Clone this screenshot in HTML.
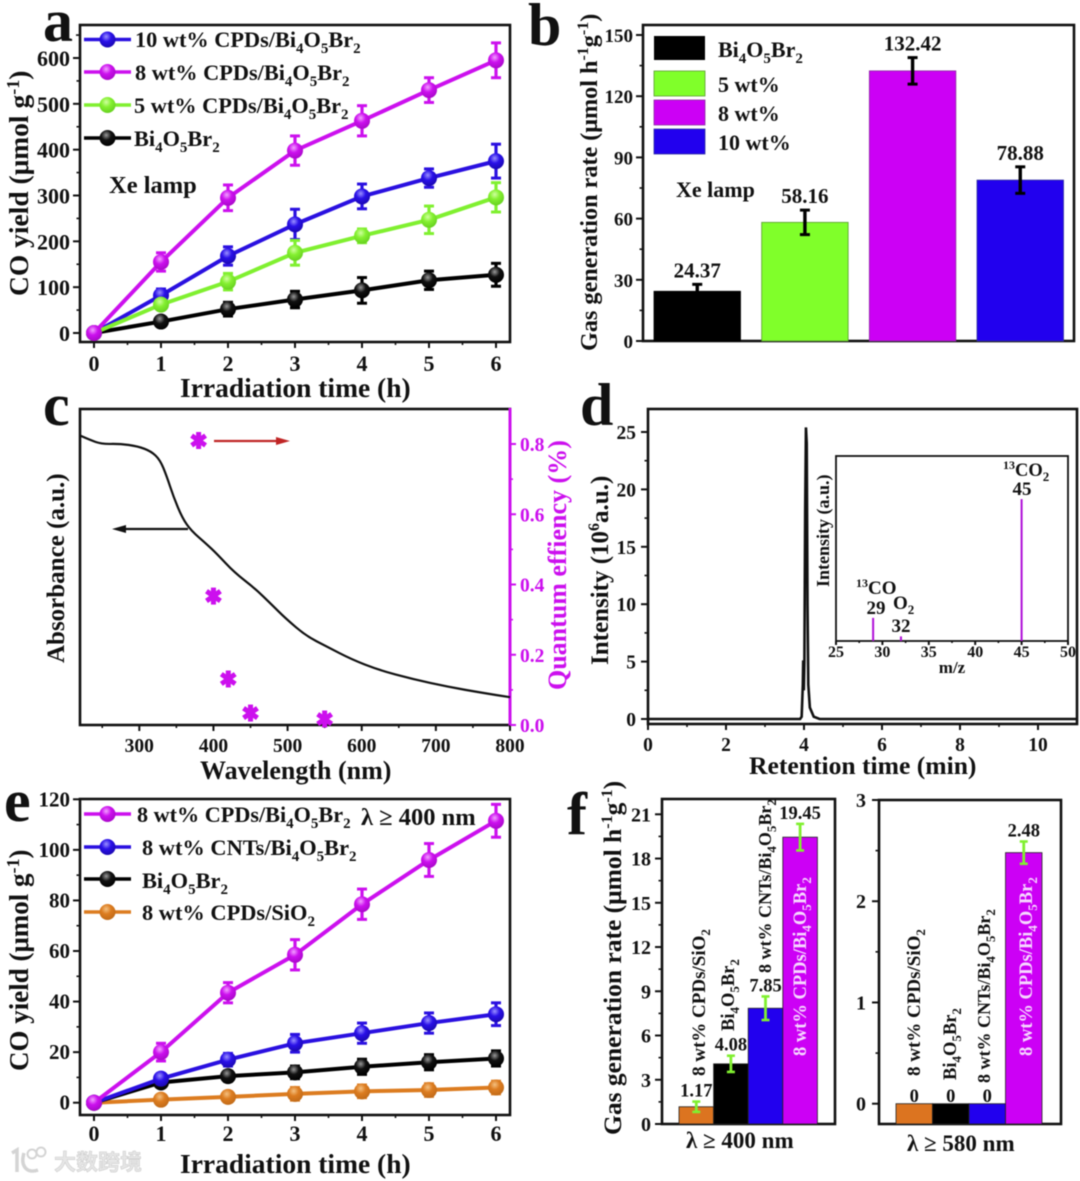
<!DOCTYPE html>
<html lang="en">
<head>
<meta charset="utf-8">
<title>CO yield and gas generation figure</title>
<style>
html,body{margin:0;padding:0;background:#fff;}
svg{display:block;filter:blur(0.6px);}
text{font-family:"Liberation Serif","Noto Sans CJK SC",serif;font-weight:bold;fill:#111;}
.frame{fill:none;stroke:#111;stroke-width:2.6;}
</style>
</head>
<body>
<svg id="figure" xmlns="http://www.w3.org/2000/svg" width="1080" height="1181" viewBox="0 0 1080 1181">
<defs>
<radialGradient id="g-blue" cx="0.42" cy="0.32" r="0.7"><stop offset="0" stop-color="#9a90ff"/><stop offset="0.45" stop-color="#2a10e8"/><stop offset="1" stop-color="#1a08b0"/></radialGradient>
<radialGradient id="g-magenta" cx="0.42" cy="0.32" r="0.7"><stop offset="0" stop-color="#f2a0ff"/><stop offset="0.45" stop-color="#cc10ee"/><stop offset="1" stop-color="#a808c8"/></radialGradient>
<radialGradient id="g-green" cx="0.42" cy="0.32" r="0.7"><stop offset="0" stop-color="#d0ffa0"/><stop offset="0.45" stop-color="#84f030"/><stop offset="1" stop-color="#66d020"/></radialGradient>
<radialGradient id="g-black" cx="0.42" cy="0.32" r="0.7"><stop offset="0" stop-color="#999"/><stop offset="0.45" stop-color="#111"/><stop offset="1" stop-color="#000"/></radialGradient>
<radialGradient id="g-orange" cx="0.42" cy="0.32" r="0.7"><stop offset="0" stop-color="#f4c080"/><stop offset="0.45" stop-color="#dc7c20"/><stop offset="1" stop-color="#c06a18"/></radialGradient>
</defs>

<g id="panel-a">
<rect class="frame" x="80" y="25" width="430" height="317"/>
<g id="a-marks"></g>
<text x="43" y="41" font-size="60">a</text>
<text x="180" y="397" font-size="27.5">Irradiation time (h)</text>
<text transform="translate(28 296) rotate(-90)" font-size="27.5">CO yield (μmol g<tspan dy="-9" font-size="18">-1</tspan><tspan dy="9">)</tspan></text>
<text x="135" y="47" font-size="22.3">10 wt% CPDs/Bi<tspan dy="6" font-size="15">4</tspan><tspan dy="-6">O</tspan><tspan dy="6" font-size="15">5</tspan><tspan dy="-6">Br</tspan><tspan dy="6" font-size="15">2</tspan></text>
<text x="135" y="80" font-size="22.3">8 wt% CPDs/Bi<tspan dy="6" font-size="15">4</tspan><tspan dy="-6">O</tspan><tspan dy="6" font-size="15">5</tspan><tspan dy="-6">Br</tspan><tspan dy="6" font-size="15">2</tspan></text>
<text x="134" y="113" font-size="22.3">5 wt% CPDs/Bi<tspan dy="6" font-size="15">4</tspan><tspan dy="-6">O</tspan><tspan dy="6" font-size="15">5</tspan><tspan dy="-6">Br</tspan><tspan dy="6" font-size="15">2</tspan></text>
<text x="134" y="146" font-size="22.3">Bi<tspan dy="6" font-size="15">4</tspan><tspan dy="-6">O</tspan><tspan dy="6" font-size="15">5</tspan><tspan dy="-6">Br</tspan><tspan dy="6" font-size="15">2</tspan></text>
<text x="109" y="193" font-size="24.5">Xe lamp</text>
</g>

<g id="panel-b">
<rect class="frame" x="643" y="25" width="431" height="316"/>
<g id="b-marks"></g>
<text x="528" y="45" font-size="60">b</text>
<text transform="translate(597 351) rotate(-90)" font-size="24.2">Gas generation rate (μmol h<tspan dy="-9" font-size="16">-1</tspan><tspan dy="9">g</tspan><tspan dy="-9" font-size="16">-1</tspan><tspan dy="9">)</tspan></text>
<rect x="654" y="36" width="51" height="24" fill="#000"/>
<rect x="654" y="71" width="51" height="25" fill="#80ff2a" stroke="#5a9a30" stroke-width="0.8"/>
<rect x="654" y="100" width="51" height="25" fill="#cc00f5" stroke="#8a30a0" stroke-width="0.8"/>
<rect x="654" y="129" width="51" height="25" fill="#2200ee" stroke="#3030a0" stroke-width="0.8"/>
<text x="718" y="57" font-size="22">Bi<tspan dy="6" font-size="15">4</tspan><tspan dy="-6">O</tspan><tspan dy="6" font-size="15">5</tspan><tspan dy="-6">Br</tspan><tspan dy="6" font-size="15">2</tspan></text>
<text x="718" y="92" font-size="22">5 wt%</text>
<text x="718" y="121" font-size="22">8 wt%</text>
<text x="718" y="150" font-size="22">10 wt%</text>
<text x="676" y="197" font-size="22">Xe lamp</text>
</g>

<g id="panel-c">
<rect class="frame" x="80" y="409" width="430" height="316"/>
<line x1="510" y1="408" x2="510" y2="726" stroke="#cc10ee" stroke-width="3"/>
<g id="c-marks"></g>
<text x="43" y="425" font-size="60">c</text>
<text x="200" y="779" font-size="26">Wavelength (nm)</text>
<text transform="translate(64 663) rotate(-90)" font-size="25">Absorbance (a.u.)</text>
<text transform="translate(566 690) rotate(-90)" font-size="26" style="fill:#cc10ee">Quantum effiency (%)</text>
<line x1="214" y1="441" x2="282" y2="441" stroke="#c02525" stroke-width="2.2"/>
<polygon points="290,441 276,437 276,445" fill="#c02525"/>
<line x1="188" y1="529" x2="120" y2="529" stroke="#111" stroke-width="2.2"/>
<polygon points="112,529 126,525 126,533" fill="#111"/>
</g>

<g id="panel-d">
<rect class="frame" x="648" y="409" width="429" height="315"/>
<g id="d-marks"></g>
<text x="580" y="425" font-size="60">d</text>
<text x="749" y="774" font-size="25.6">Retention time (min)</text>
<text transform="translate(608 665) rotate(-90)" font-size="25">Intensity (10<tspan dy="-9" font-size="16">6</tspan><tspan dy="9">a.u.)</tspan></text>
<rect class="frame" style="stroke-width:1.8" x="836" y="456" width="232" height="185"/>
<g id="d-inset-marks"></g>
<text x="952" y="673" font-size="17" text-anchor="middle">m/z</text>
<text transform="translate(829 587) rotate(-90)" font-size="18">Intensity (a.u.)</text>
<text x="1003" y="476" font-size="18.5"><tspan dy="-7" font-size="12">13</tspan><tspan dy="7">CO</tspan><tspan dy="5" font-size="13">2</tspan></text>
<text x="1022" y="495" font-size="19" text-anchor="middle">45</text>
<text x="856" y="594" font-size="19"><tspan dy="-7" font-size="12">13</tspan><tspan dy="7">CO</tspan></text>
<text x="876" y="614" font-size="19" text-anchor="middle">29</text>
<text x="893" y="609" font-size="19">O<tspan dy="5" font-size="13">2</tspan></text>
<text x="901" y="632" font-size="19" text-anchor="middle">32</text>
</g>

<g id="panel-e">
<rect class="frame" x="80" y="799" width="430" height="316"/>
<g id="e-marks"></g>
<text x="4" y="821" font-size="60">e</text>
<text x="180" y="1173" font-size="27.5">Irradiation time (h)</text>
<text transform="translate(28 1071) rotate(-90)" font-size="27">CO yield (μmol g<tspan dy="-9" font-size="18">-1</tspan><tspan dy="9">)</tspan></text>
<text x="137" y="822" font-size="22.2">8 wt% CPDs/Bi<tspan dy="6" font-size="15">4</tspan><tspan dy="-6">O</tspan><tspan dy="6" font-size="15">5</tspan><tspan dy="-6">Br</tspan><tspan dy="6" font-size="15">2</tspan></text>
<text x="361" y="825" font-size="24.5">λ ≥ 400 nm</text>
<text x="142" y="855" font-size="22.4">8 wt% CNTs/Bi<tspan dy="6" font-size="15">4</tspan><tspan dy="-6">O</tspan><tspan dy="6" font-size="15">5</tspan><tspan dy="-6">Br</tspan><tspan dy="6" font-size="15">2</tspan></text>
<text x="142" y="888" font-size="22.4">Bi<tspan dy="6" font-size="15">4</tspan><tspan dy="-6">O</tspan><tspan dy="6" font-size="15">5</tspan><tspan dy="-6">Br</tspan><tspan dy="6" font-size="15">2</tspan></text>
<text x="142" y="920" font-size="22.4">8 wt% CPDs/SiO<tspan dy="6" font-size="15">2</tspan></text>
</g>

<g id="panel-f">
<rect class="frame" x="662" y="799" width="173" height="325"/>
<rect class="frame" x="879" y="800" width="182" height="324"/>
<g id="f-marks"></g>
<text x="567" y="834" font-size="60">f</text>
<text transform="translate(621 1135) rotate(-90)" font-size="25.5">Gas generation rate (μmol h<tspan dy="-9" font-size="16">-1</tspan><tspan dy="9">g</tspan><tspan dy="-9" font-size="16">-1</tspan><tspan dy="9">)</tspan></text>
<text transform="translate(705 1076) rotate(-90)" font-size="19">8 wt% CPDs/SiO<tspan dy="5" font-size="13">2</tspan></text>
<text transform="translate(734 1031) rotate(-90)" font-size="18.5">Bi<tspan dy="5" font-size="13">4</tspan><tspan dy="-5">O</tspan><tspan dy="5" font-size="13">5</tspan><tspan dy="-5">Br</tspan><tspan dy="5" font-size="13">2</tspan></text>
<text transform="translate(771 973) rotate(-90)" font-size="18">8 wt% CNTs/Bi<tspan dy="5" font-size="13">4</tspan><tspan dy="-5">O</tspan><tspan dy="5" font-size="13">5</tspan><tspan dy="-5">Br</tspan><tspan dy="5" font-size="13">2</tspan></text>
<text transform="translate(806 1056) rotate(-90)" font-size="18.5" style="fill:#f6d8ff">8 wt% CPDs/Bi<tspan dy="5" font-size="13">4</tspan><tspan dy="-5">O</tspan><tspan dy="5" font-size="13">5</tspan><tspan dy="-5">Br</tspan><tspan dy="5" font-size="13">2</tspan></text>
<text transform="translate(920 1076) rotate(-90)" font-size="19">8 wt% CPDs/SiO<tspan dy="5" font-size="13">2</tspan></text>
<text transform="translate(956 1080) rotate(-90)" font-size="18.5">Bi<tspan dy="5" font-size="13">4</tspan><tspan dy="-5">O</tspan><tspan dy="5" font-size="13">5</tspan><tspan dy="-5">Br</tspan><tspan dy="5" font-size="13">2</tspan></text>
<text transform="translate(990 1083) rotate(-90)" font-size="18">8 wt% CNTs/Bi<tspan dy="5" font-size="13">4</tspan><tspan dy="-5">O</tspan><tspan dy="5" font-size="13">5</tspan><tspan dy="-5">Br</tspan><tspan dy="5" font-size="13">2</tspan></text>
<text transform="translate(1032 1056) rotate(-90)" font-size="18.5" style="fill:#f6d8ff">8 wt% CPDs/Bi<tspan dy="5" font-size="13">4</tspan><tspan dy="-5">O</tspan><tspan dy="5" font-size="13">5</tspan><tspan dy="-5">Br</tspan><tspan dy="5" font-size="13">2</tspan></text>
<text x="686" y="1148" font-size="23">λ ≥ 400 nm</text>
<text x="907" y="1151" font-size="23">λ ≥ 580 nm</text>
</g>

<g id="watermark">
<path d="M12 1153 L17 1150 L17 1172 M24 1153 C20 1166 27 1174 38 1170" fill="none" stroke="#d4d4d4" stroke-width="3.5"/>
<circle cx="32" cy="1154" r="4.5" fill="none" stroke="#d4d4d4" stroke-width="2"/>
<circle cx="41" cy="1152" r="4.5" fill="none" stroke="#d4d4d4" stroke-width="2"/>
<text x="54" y="1170" font-size="22" style="fill:#e6e6e6;stroke:#cfcfcf;stroke-width:0.6;font-weight:700;font-family:'Noto Sans CJK SC','WenQuanYi Zen Hei',sans-serif">大数跨境</text>
</g>

<script>
// ---- Panel a: CO yield under Xe lamp ----
const aHours = [0, 1, 2, 3, 4, 5, 6];
const aYTicks = [0, 100, 200, 300, 400, 500, 600];
const a10wt = [0, 82, 168, 237, 298, 338, 375];
const a10wtErr = [0, 14, 20, 33, 27, 20, 37];
const a8wt = [0, 155, 295, 398, 463, 530, 595];
const a8wtErr = [0, 20, 28, 32, 33, 27, 38];
const a5wt = [0, 62, 112, 175, 212, 247, 296];
const a5wtErr = [0, 10, 18, 27, 15, 30, 32];
const aBare = [0, 25, 52, 73, 93, 115, 127];
const aBareErr = [0, 10, 15, 18, 28, 20, 25];

// ---- Panel b: gas generation rate ----
const bCategories = ['Bi4O5Br2', '5 wt%', '8 wt%', '10 wt%'];
const bValues = [24.37, 58.16, 132.42, 78.88];
const bErrors = [3.4, 6, 6.5, 6.5];
const bLabels = ['24.37', '58.16', '132.42', '78.88'];
const bYTicks = [0, 30, 60, 90, 120, 150];

// ---- Panel c: absorbance and quantum efficiency ----
const cWavelengths = [220, 232.5, 249, 274, 298, 316, 328, 337, 346, 358, 370, 390.5, 404.5, 428, 455.6, 479, 497, 525, 553, 586, 623, 669, 716, 762, 800];
const cAbsorbance = [0.916, 0.903, 0.889, 0.89, 0.882, 0.866, 0.839, 0.787, 0.723, 0.655, 0.615, 0.573, 0.542, 0.483, 0.433, 0.38, 0.338, 0.282, 0.248, 0.208, 0.174, 0.145, 0.121, 0.102, 0.088];
const cQeWavelengths = [380, 400, 420, 450, 550];
const cQe = [0.81, 0.367, 0.131, 0.034, 0.017];
const cXTicks = [300, 400, 500, 600, 700, 800];
const cQeTicks = ['0.0', '0.2', '0.4', '0.6', '0.8'];

// ---- Panel d: chromatogram and mass spectrum ----
const dTimes = [0, 3.9, 3.94, 3.97, 3.98, 3.995, 4.01, 4.03, 4.05, 4.07, 4.09, 4.11, 4.15, 4.25, 4.4, 11];
const dIntensity = [0, 0, 0.2, 3, 5.1, 2.5, 5, 18, 25.4, 24, 10, 3, 1, 0.2, 0, 0];
const dXTicks = [0, 2, 4, 6, 8, 10];
const dYTicks = [0, 5, 10, 15, 20, 25];
const insetMz = [29, 32, 45];
const insetIntensity = [12.5, 2.5, 76.7];
const insetXTicks = [25, 30, 35, 40, 45, 50];

// ---- Panel e: CO yield at 400 nm ----
const eHours = [0, 1, 2, 3, 4, 5, 6];
const eYTicks = [0, 20, 40, 60, 80, 100, 120];
const eCpds = [0, 20, 43.5, 58.5, 78.5, 96, 111.5];
const eCpdsErr = [0, 3.5, 4, 6, 6, 6.5, 6.5];
const eCnts = [0, 9.5, 17, 23.5, 27.5, 31.5, 35];
const eCntsErr = [0, 2, 2.5, 3.5, 4, 4, 4.5];
const eBare = [0, 8, 10.5, 12, 14.2, 16, 17.5];
const eBareErr = [0, 1.5, 2, 2.5, 3, 3, 3];
const eSio2 = [0, 1.2, 2.3, 3.5, 4.5, 5, 6];
const eSio2Err = [0, 1.5, 2, 2.5, 2.5, 2.5, 2.5];

// ---- Panel f: gas generation rate by wavelength ----
const fCategories = ['8 wt% CPDs/SiO2', 'Bi4O5Br2', '8 wt% CNTs/Bi4O5Br2', '8 wt% CPDs/Bi4O5Br2'];
const f400Values = [1.17, 4.08, 7.85, 19.45];
const f400Errors = [0.35, 0.55, 0.8, 0.9];
const f400Labels = ['1.17', '4.08', '7.85', '19.45'];
const f400Ticks = [0, 3, 6, 9, 12, 15, 18, 21];
const f580Values = [0, 0, 0, 2.48];
const f580Errors = [0, 0, 0, 0.11];
const f580Labels = ['0', '0', '0', '2.48'];
const f580Ticks = [0, 1, 2, 3];

const NS = 'http://www.w3.org/2000/svg';

function mk(parent, tag, attrs, name) {
  const el = document.createElementNS(NS, tag);
  for (const k in attrs) el.setAttribute(k, attrs[k]);
  
  
  parent.appendChild(el);
  return el;
}
function scale(d0, d1, r0, r1) {
  return v => r0 + (v - d0) / (d1 - d0) * (r1 - r0);
}
function label(parent, x, y, str, size, anchor, fill, name) {
  const el = mk(parent, 'text', { x: x, y: y, 'font-size': size, 'text-anchor': anchor }, name);
  if (fill) el.style.fill = fill;
  el.textContent = str;
  return el;
}
function mids(t) {
  const out = [];
  for (let i = 0; i + 1 < t.length; i++) out.push((t[i] + t[i + 1]) / 2);
  return out;
}
function xAxis(g, sx, ticks, y, labelY, size, prefix, minors, len) {
  const L = len || 6;
  ticks.forEach(t => {
    mk(g, 'line', { x1: sx(t), x2: sx(t), y1: y, y2: y + L, stroke: '#111', 'stroke-width': 2 }, prefix + '-x-tick');
    label(g, sx(t), labelY, String(t), size, 'middle', null, prefix + '-x-tick-label');
  });
  (minors || mids(ticks)).forEach(t => {
    mk(g, 'line', { x1: sx(t), x2: sx(t), y1: y, y2: y + L / 2, stroke: '#111', 'stroke-width': 1.6 }, prefix + '-x-minor-tick');
  });
}
function yAxis(g, sy, ticks, x, labelX, size, offset, prefix, len) {
  const L = len || 7;
  ticks.forEach(t => {
    mk(g, 'line', { x1: x - L, x2: x, y1: sy(t), y2: sy(t), stroke: '#111', 'stroke-width': 2 }, prefix + '-y-tick');
    label(g, labelX, sy(t) + offset, String(t), size, 'end', null, prefix + '-y-tick-label');
  });
  mids(ticks).forEach(t => {
    mk(g, 'line', { x1: x - L / 2, x2: x, y1: sy(t), y2: sy(t), stroke: '#111', 'stroke-width': 1.6 }, prefix + '-y-minor-tick');
  });
}
function series(g, sx, sy, xs, ys, errs, color, grad, name) {
  const pts = xs.map((x, i) => sx(x) + ',' + sy(ys[i])).join(' ');
  mk(g, 'polyline', { points: pts, fill: 'none', stroke: color, 'stroke-width': 4 }, name + '-line');
  xs.forEach((x, i) => {
    const cx = sx(x), cy = sy(ys[i]);
    if (errs[i] > 0) {
      const t = sy(ys[i] + errs[i]), b = sy(ys[i] - errs[i]);
      mk(g, 'line', { x1: cx, x2: cx, y1: t, y2: b, stroke: color, 'stroke-width': 3.2 }, name + '-error-bar');
      mk(g, 'line', { x1: cx - 5, x2: cx + 5, y1: t, y2: t, stroke: color, 'stroke-width': 3 }, name + '-error-cap');
      mk(g, 'line', { x1: cx - 5, x2: cx + 5, y1: b, y2: b, stroke: color, 'stroke-width': 3 }, name + '-error-cap');
    }
    mk(g, 'circle', { cx: cx, cy: cy, r: 8, fill: 'url(#' + grad + ')' }, name + '-point');
  });
}
function legendKey(g, y, x0, x1, color, grad, name) {
  mk(g, 'line', { x1: x0, x2: x1, y1: y, y2: y, stroke: color, 'stroke-width': 3.6 }, name + '-line');
  mk(g, 'circle', { cx: (x0 + x1) / 2, cy: y, r: 8, fill: 'url(#' + grad + ')' }, name + '-marker');
}
function smoothPath(xs, ys) {
  let d = 'M' + xs[0] + ' ' + ys[0];
  for (let i = 1; i < xs.length - 1; i++) {
    d += ' Q' + xs[i] + ' ' + ys[i] + ' ' + (xs[i] + xs[i + 1]) / 2 + ' ' + (ys[i] + ys[i + 1]) / 2;
  }
  d += ' L' + xs[xs.length - 1] + ' ' + ys[ys.length - 1];
  return d;
}

// Panel a
(function () {
  const g = document.getElementById('a-marks');
  const sx = scale(0, 6, 94, 496), sy = scale(0, 600, 333, 58);
  xAxis(g, sx, aHours, 342, 371, 22, 'a');
  yAxis(g, sy, aYTicks, 80, 70, 22, 8, 'a');
  mk(g, 'line', { x1: 76, x2: 80, y1: sy(650), y2: sy(650), stroke: '#111', 'stroke-width': 1.6 }, 'a-y-minor-tick');
  series(g, sx, sy, aHours, aBare, aBareErr, '#000', 'g-black', 'series-a-pristine');
  series(g, sx, sy, aHours, a10wt, a10wtErr, '#2a10e0', 'g-blue', 'series-a-10wt');
  series(g, sx, sy, aHours, a5wt, a5wtErr, '#80f030', 'g-green', 'series-a-5wt');
  series(g, sx, sy, aHours, a8wt, a8wtErr, '#cc10ee', 'g-magenta', 'series-a-8wt');
  legendKey(g, 39.5, 84, 131, '#2a10e0', 'g-blue', 'legend-a-10wt');
  legendKey(g, 72, 84, 131, '#cc10ee', 'g-magenta', 'legend-a-8wt');
  legendKey(g, 105, 84, 131, '#80f030', 'g-green', 'legend-a-5wt');
  legendKey(g, 138, 84, 131, '#000', 'g-black', 'legend-a-pristine');
})();

// Panel b
(function () {
  const g = document.getElementById('b-marks');
  const sy = scale(0, 150, 341, 35);
  const band = i => 654 + i * 107.67;
  const colors = ['#000', '#80ff2a', '#cc00f5', '#2200ee'];
  const edges = ['#000', '#5a9a30', '#8a30a0', '#3030a0'];
  yAxis(g, sy, bYTicks, 643, 633, 19, 7, 'b');
  bValues.forEach((v, i) => {
    const x = band(i), w = 86.5, cx = x + w / 2;
    mk(g, 'rect', { x: x, y: sy(v), width: w, height: sy(0) - sy(v), fill: colors[i], stroke: edges[i], 'stroke-width': 0.8 }, 'bar-' + bCategories[i].replace(/[^a-zA-Z0-9]/g, '').toLowerCase());
    const t = sy(v + bErrors[i]), b = sy(v - bErrors[i]);
    mk(g, 'line', { x1: cx, x2: cx, y1: t, y2: b, stroke: '#000', 'stroke-width': 3.4 }, 'b-error-bar');
    mk(g, 'line', { x1: cx - 5, x2: cx + 5, y1: t, y2: t, stroke: '#000', 'stroke-width': 3 }, 'b-error-cap');
    mk(g, 'line', { x1: cx - 5, x2: cx + 5, y1: b, y2: b, stroke: '#000', 'stroke-width': 3 }, 'b-error-cap');
    label(g, cx, t - 7, bLabels[i], 21, 'middle', null, 'b-value-label');
  });
})();

// Panel c
(function () {
  const g = document.getElementById('c-marks');
  const sx = scale(220, 800, 80, 510);
  const sAbs = scale(0, 1, 725, 409);
  const sQe = scale(0, 0.8, 725, 444);
  const magenta = '#cc10ee';
  xAxis(g, sx, cXTicks, 725, 752, 19.5, 'c', [250].concat(mids(cXTicks)));
  cQeTicks.forEach(t => {
    const v = parseFloat(t);
    mk(g, 'line', { x1: 510, x2: 516, y1: sQe(v), y2: sQe(v), stroke: magenta, 'stroke-width': 2 }, 'c-right-tick');
    label(g, 520, sQe(v) + 7, t, 19.5, 'start', magenta, 'c-right-tick-label');
  });
  mids(cQeTicks.map(parseFloat)).forEach(v => {
    mk(g, 'line', { x1: 510, x2: 513, y1: sQe(v), y2: sQe(v), stroke: magenta, 'stroke-width': 1.6 }, 'c-right-minor-tick');
  });
  mk(g, 'path', { d: smoothPath(cWavelengths.map(sx), cAbsorbance.map(sAbs)), fill: 'none', stroke: '#111', 'stroke-width': 2.2 }, 'absorbance-curve');
  cQeWavelengths.forEach((w, i) => {
    const cx = sx(w), cy = sQe(cQe[i]), R = 8.5;
    [90, 35, 145].forEach(a => {
      const dx = R * Math.cos(a * Math.PI / 180), dy = R * Math.sin(a * Math.PI / 180);
      mk(g, 'line', { x1: cx - dx, x2: cx + dx, y1: cy - dy, y2: cy + dy, stroke: magenta, 'stroke-width': 5 }, 'quantum-efficiency-point-arm');
    });
  });
})();

// Panel d
(function () {
  const g = document.getElementById('d-marks');
  const sx = scale(0, 11, 648, 1077), sy = scale(0, 25, 719, 432);
  xAxis(g, sx, dXTicks, 724, 751, 19.5, 'd', mids(dXTicks));
  yAxis(g, sy, dYTicks, 648, 636, 19.5, 7, 'd');
  const pts = dTimes.map((t, i) => sx(t) + ',' + sy(dIntensity[i])).join(' ');
  mk(g, 'polyline', { points: pts, fill: 'none', stroke: '#111', 'stroke-width': 2.6 }, 'chromatogram-curve');

  const h = document.getElementById('d-inset-marks');
  const ix = scale(25, 50, 836, 1068), iy = scale(0, 100, 641, 456);
  xAxis(h, ix, insetXTicks, 641, 657, 16, 'inset', mids(insetXTicks), 4);
  insetMz.forEach((m, i) => {
    mk(h, 'line', { x1: ix(m), x2: ix(m), y1: iy(0), y2: iy(insetIntensity[i]), stroke: '#b010d8', 'stroke-width': 2 }, 'mass-peak-' + m);
  });
})();

// Panel e
(function () {
  const g = document.getElementById('e-marks');
  const sx = scale(0, 6, 94, 496), sy = scale(0, 120, 1102.7, 799.3);
  xAxis(g, sx, eHours, 1115, 1141, 22, 'e');
  yAxis(g, sy, eYTicks, 80, 70, 21, 7, 'e');
  series(g, sx, sy, eHours, eSio2, eSio2Err, '#dc7c20', 'g-orange', 'series-e-sio2');
  series(g, sx, sy, eHours, eBare, eBareErr, '#000', 'g-black', 'series-e-pristine');
  series(g, sx, sy, eHours, eCnts, eCntsErr, '#2a10e0', 'g-blue', 'series-e-cnts');
  series(g, sx, sy, eHours, eCpds, eCpdsErr, '#cc10ee', 'g-magenta', 'series-e-cpds');
  legendKey(g, 814, 84, 131, '#cc10ee', 'g-magenta', 'legend-e-cpds');
  legendKey(g, 847, 84, 131, '#2a10e0', 'g-blue', 'legend-e-cnts');
  legendKey(g, 879, 84, 131, '#000', 'g-black', 'legend-e-pristine');
  legendKey(g, 912, 84, 131, '#dc7c20', 'g-orange', 'legend-e-sio2');
})();

// Panel f
(function () {
  const g = document.getElementById('f-marks');
  const colors = ['#dc7420', '#000', '#2200ee', '#cc00f5'];
  const green = '#80f030';
  function bars(values, errors, labels, sy, x0, w, prefix, baseY) {
    values.forEach((v, i) => {
      const x = x0 + i * w, cx = x + w / 2;
      mk(g, 'rect', { x: x, y: sy(v), width: w, height: baseY - sy(v), fill: colors[i], stroke: '#222', 'stroke-width': 0.8 }, prefix + '-bar-' + fCategories[i].replace(/[^a-zA-Z0-9]/g, '').toLowerCase());
      let labelY = sy(v) - 1.5;
      if (errors[i] > 0) {
        const t = sy(v + errors[i]), b = sy(v - errors[i]);
        labelY = t - 5;
        mk(g, 'line', { x1: cx, x2: cx, y1: t, y2: b, stroke: green, 'stroke-width': 2.8 }, prefix + '-error-bar');
        mk(g, 'line', { x1: cx - 4, x2: cx + 4, y1: t, y2: t, stroke: green, 'stroke-width': 2.6 }, prefix + '-error-cap');
        mk(g, 'line', { x1: cx - 4, x2: cx + 4, y1: b, y2: b, stroke: green, 'stroke-width': 2.6 }, prefix + '-error-cap');
      }
      label(g, cx, labelY, labels[i], 18.5, 'middle', null, prefix + '-value-label');
    });
  }
  const sL = scale(0, 21, 1124, 814.3);
  yAxis(g, sL, f400Ticks, 662, 651, 20, 7, 'f-left');
  bars(f400Values, f400Errors, f400Labels, sL, 679, 34.6, 'f-left', 1124);
  const sR = scale(0, 3, 1103.7, 800);
  yAxis(g, sR, f580Ticks, 879, 866, 20, 7, 'f-right');
  bars(f580Values, f580Errors, f580Labels, sR, 896, 36.5, 'f-right', 1124);
})();
</script>
</svg>
</body>
</html>
